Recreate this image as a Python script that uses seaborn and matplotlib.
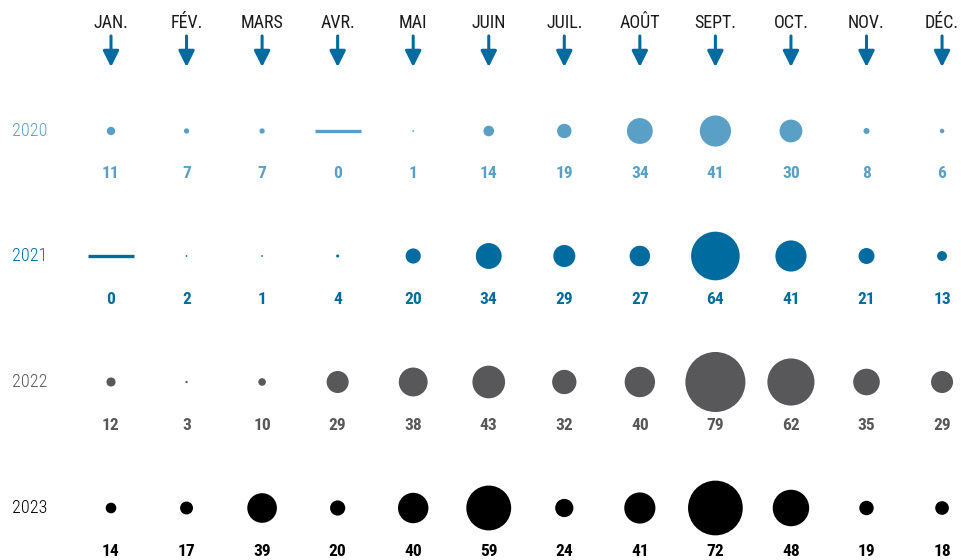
import matplotlib
matplotlib.use("Agg")
import matplotlib.pyplot as plt
import seaborn as sns
import pandas as pd
import numpy as np

months = ["JAN.", "FÉV.", "MARS", "AVR.", "MAI", "JUIN", "JUIL.", "AOÛT", "SEPT.", "OCT.", "NOV.", "DÉC."]
years = ["2020", "2021", "2022", "2023"]
v2020 = [11, 7, 7, 0, 1, 14, 19, 34, 41, 30, 8, 6]
v2021 = [0, 2, 1, 4, 20, 34, 29, 27, 64, 41, 21, 13]
v2022 = [12, 3, 10, 29, 38, 43, 32, 40, 79, 62, 35, 29]
v2023 = [14, 17, 39, 20, 40, 59, 24, 41, 72, 48, 19, 18]
colors = {"2020": "#5a9fc6", "2021": "#006b9f", "2022": "#58585a", "2023": "#000000"}

sns.set_theme(style="white")
FONT = ["Roboto Condensed", "Liberation Sans Narrow", "DejaVu Sans"]
plt.rcParams["font.family"] = FONT

W, H = 962, 560
fig = plt.figure(figsize=(W / 100, H / 100), dpi=100)
ax = fig.add_axes([0, 0, 1, 1])

col_x = [111 + i * 75.55 for i in range(12)]
row_y = [131, 256, 382, 508]

rows = []
for yi, (yr, vals) in enumerate(zip(years, [v2020, v2021, v2022, v2023])):
    for mi, v in enumerate(vals):
        rows.append({"year": yr, "month": months[mi], "x": col_x[mi], "y": row_y[yi], "value": v})
df = pd.DataFrame(rows)

PX_PER_UNIT = 0.76
df["s"] = (np.maximum(df["value"] * PX_PER_UNIT, 1.8) * 0.72) ** 2
nz = df[df["value"] > 0]
sns.scatterplot(data=nz, x="x", y="y", hue="year", palette=colors, s=nz["s"].values,
                linewidth=0, legend=False, ax=ax)
ax.set_xlim(0, W)
ax.set_ylim(H, 0)
ax.axis("off")

for _, r in df[df["value"] == 0].iterrows():
    ax.hlines(r["y"], r["x"] - 23, r["x"] + 23, color=colors[r["year"]], lw=2.4)

for _, r in df.iterrows():
    ax.text(r["x"], r["y"] + 43, str(r["value"]), ha="center", va="center",
            fontsize=12.5, fontweight="bold", color=colors[r["year"]])

for yi, yr in enumerate(years):
    ax.text(12, row_y[yi], yr, ha="left", va="center", fontsize=13, fontweight="light",
            color=colors[yr])

for mi, m in enumerate(months):
    ax.text(col_x[mi], 23, m, ha="center", va="center", fontsize=13, fontweight="normal",
            color="#1a1a1a")
    ax.annotate("", xy=(col_x[mi], 67), xytext=(col_x[mi], 36),
                arrowprops=dict(arrowstyle="-|>,head_width=0.4,head_length=0.8",
                                color="#006b9f", lw=2.2, shrinkA=0, shrinkB=0))

fig.savefig("out.png", dpi=100)
